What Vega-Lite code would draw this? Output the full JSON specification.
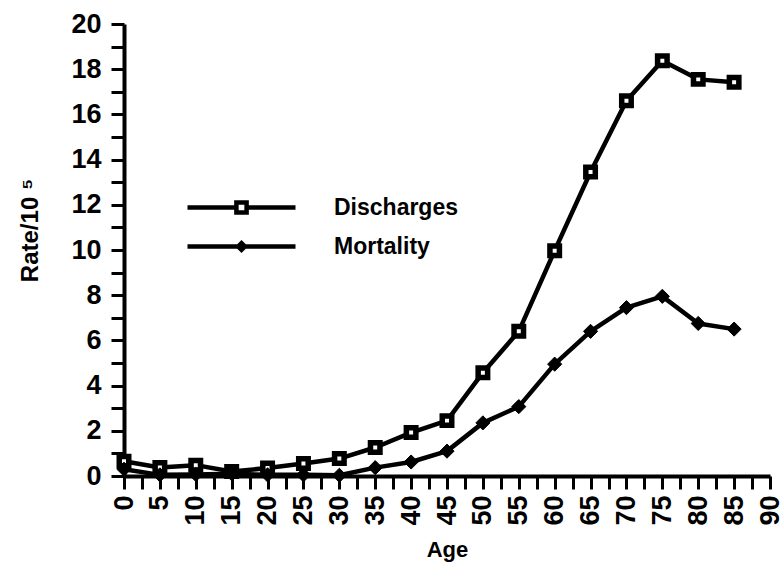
{
  "$schema": "https://vega.github.io/schema/vega-lite/v6.json",
  "width": 646,
  "height": 452,
  "autosize": "none",
  "padding": {"left": 124, "top": 24, "right": 11, "bottom": 86},
  "background": "white",
  "config": {
    "view": {"stroke": null},
    "font": "Liberation Sans",
    "axis": {
      "domainColor": "black",
      "domainWidth": 4,
      "tickColor": "black",
      "tickWidth": 3,
      "grid": false,
      "labelColor": "black",
      "labelFont": "Liberation Sans",
      "labelFontWeight": "bold",
      "labelFontSize": 27,
      "labelOverlap": false,
      "labelFlush": false,
      "titleColor": "black",
      "titleFont": "Liberation Sans",
      "titleFontWeight": "bold"
    }
  },
  "data": {
    "values": [
      {"age": 0, "series": "Discharges", "rate": 0.65},
      {"age": 5, "series": "Discharges", "rate": 0.38},
      {"age": 10, "series": "Discharges", "rate": 0.48},
      {"age": 15, "series": "Discharges", "rate": 0.2},
      {"age": 20, "series": "Discharges", "rate": 0.35},
      {"age": 25, "series": "Discharges", "rate": 0.55},
      {"age": 30, "series": "Discharges", "rate": 0.77},
      {"age": 35, "series": "Discharges", "rate": 1.26},
      {"age": 40, "series": "Discharges", "rate": 1.92},
      {"age": 45, "series": "Discharges", "rate": 2.45},
      {"age": 50, "series": "Discharges", "rate": 4.57},
      {"age": 55, "series": "Discharges", "rate": 6.4},
      {"age": 60, "series": "Discharges", "rate": 9.97},
      {"age": 65, "series": "Discharges", "rate": 13.45},
      {"age": 70, "series": "Discharges", "rate": 16.6},
      {"age": 75, "series": "Discharges", "rate": 18.37},
      {"age": 80, "series": "Discharges", "rate": 17.55},
      {"age": 85, "series": "Discharges", "rate": 17.42},
      {"age": 0, "series": "Mortality", "rate": 0.3},
      {"age": 5, "series": "Mortality", "rate": 0.05},
      {"age": 10, "series": "Mortality", "rate": 0.07},
      {"age": 15, "series": "Mortality", "rate": 0.1},
      {"age": 20, "series": "Mortality", "rate": 0.05},
      {"age": 25, "series": "Mortality", "rate": 0.05},
      {"age": 30, "series": "Mortality", "rate": 0.03},
      {"age": 35, "series": "Mortality", "rate": 0.37},
      {"age": 40, "series": "Mortality", "rate": 0.62},
      {"age": 45, "series": "Mortality", "rate": 1.1},
      {"age": 50, "series": "Mortality", "rate": 2.35},
      {"age": 55, "series": "Mortality", "rate": 3.07},
      {"age": 60, "series": "Mortality", "rate": 4.95},
      {"age": 65, "series": "Mortality", "rate": 6.4},
      {"age": 70, "series": "Mortality", "rate": 7.45},
      {"age": 75, "series": "Mortality", "rate": 7.95},
      {"age": 80, "series": "Mortality", "rate": 6.75},
      {"age": 85, "series": "Mortality", "rate": 6.5}
    ]
  },
  "encoding": {
    "x": {
      "field": "age",
      "type": "quantitative",
      "scale": {"domain": [0, 90], "nice": false, "zero": false},
      "axis": {
        "title": "Age",
        "titleFontSize": 22,
        "titlePadding": 14,
        "values": [0, 2.5, 5, 7.5, 10, 12.5, 15, 17.5, 20, 22.5, 25, 27.5, 30, 32.5, 35, 37.5, 40, 42.5, 45, 47.5, 50, 52.5, 55, 57.5, 60, 62.5, 65, 67.5, 70, 72.5, 75, 77.5, 80, 82.5, 85, 87.5, 90],
        "labelExpr": "datum.value % 5 === 0 ? datum.label : ''",
        "labelAngle": -90,
        "labelAlign": "right",
        "labelBaseline": "middle",
        "labelPadding": 6,
        "tickSize": 13,
        "encode": {"ticks": {"y2": {"condition": {"test": "datum.value % 5 === 0", "value": 13}, "value": 7}}}
      }
    },
    "y": {
      "field": "rate",
      "type": "quantitative",
      "scale": {"domain": [0, 20], "nice": false},
      "axis": {
        "title": "Rate/10 ⁵",
        "titleFontSize": 24,
        "titlePadding": 28,
        "titleY": 206,
        "values": [0, 1, 2, 3, 4, 5, 6, 7, 8, 9, 10, 11, 12, 13, 14, 15, 16, 17, 18, 19, 20],
        "labelExpr": "datum.value % 2 === 0 ? datum.label : ''",
        "labelPadding": 10,
        "tickSize": 13,
        "encode": {"ticks": {"x2": {"condition": {"test": "datum.value % 2 === 0", "value": -13}, "value": -7}}}
      }
    }
  },
  "resolve": {"scale": {"shape": "independent"}},
  "layer": [
    {
      "mark": {"type": "line", "color": "black", "strokeWidth": 4.5, "strokeJoin": "round"},
      "encoding": {"detail": {"field": "series"}}
    },
    {
      "mark": {"type": "point", "filled": true, "stroke": "black", "opacity": 1},
      "encoding": {
        "shape": {
          "field": "series",
          "type": "nominal",
          "scale": {"domain": ["Discharges", "Mortality"], "range": ["square", "diamond"]},
          "legend": null
        },
        "fill": {
          "field": "series",
          "type": "nominal",
          "scale": {"domain": ["Discharges", "Mortality"], "range": ["white", "black"]},
          "legend": null
        },
        "size": {"condition": {"test": "datum.series === 'Mortality'", "value": 200}, "value": 90},
        "strokeWidth": {"condition": {"test": "datum.series === 'Mortality'", "value": 1}, "value": 5.5}
      }
    },
    {
      "mark": {"type": "point", "filled": false, "color": "black", "strokeWidth": 4.5, "opacity": 0},
      "encoding": {
        "shape": {
          "field": "series",
          "type": "nominal",
          "scale": {
            "domain": ["Discharges", "Mortality"],
            "range": [
              "M-9,0H-0.85M0.85,0H9M-0.85,-0.85H0.85V0.85H-0.85Z",
              "M-9,0H9M0,-0.56L0.56,0L0,0.56L-0.56,0Z"
            ]
          },
          "legend": {
            "orient": "none",
            "legendX": 106,
            "legendY": 172,
            "title": null,
            "padding": 0,
            "labelFontSize": 23,
            "labelFontWeight": "bold",
            "labelColor": "black",
            "labelFont": "Liberation Sans",
            "labelOffset": 81,
            "rowPadding": 12,
            "symbolSize": 144,
            "symbolOpacity": 1,
            "symbolStrokeColor": "black",
            "symbolStrokeWidth": 4.5
          }
        }
      }
    }
  ]
}
